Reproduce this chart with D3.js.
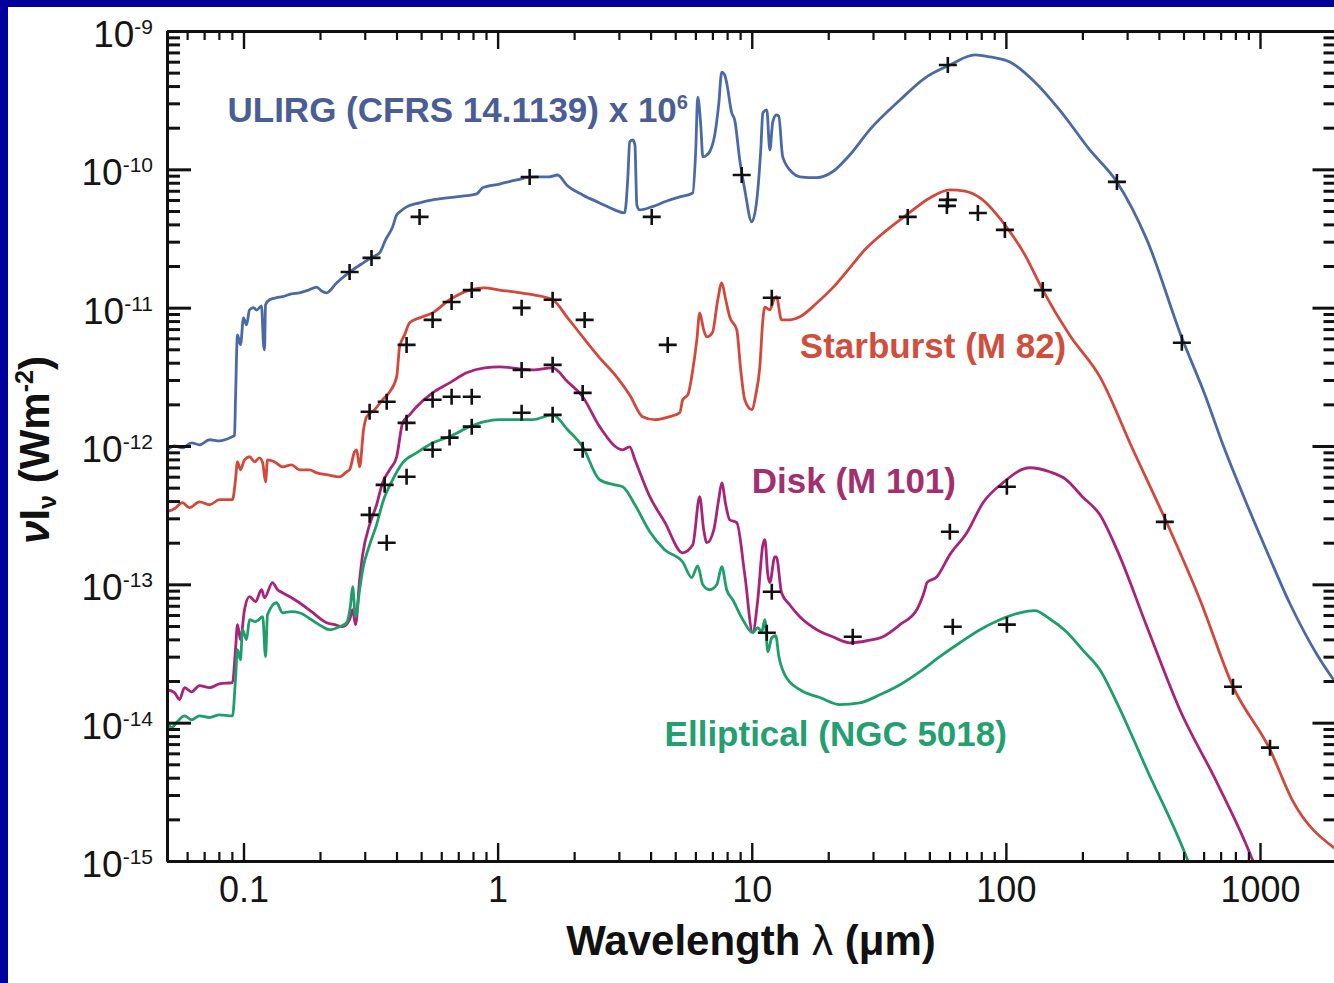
<!DOCTYPE html>
<html>
<head>
<meta charset="utf-8">
<script src="https://cdn.jsdelivr.net/npm/d3@7"></script>
<style>
  html, body { margin: 0; padding: 0; background: #00009c; }
  svg { display: block; }
</style>
</head>
<body>
<div id="container"></div>
<script>
// spectra: [wavelength (micron), nu I_nu (W m^-2)]
const ulirgSpectrum = [
  [0.05, 9.4e-13], [0.0535, 1.0e-12], [0.0575, 9.7e-13], [0.0624, 1.055e-12], [0.0671, 1.02e-12],
  [0.0735, 1.11e-12], [0.0804, 1.09e-12], [0.0905, 1.17e-12], [0.0922, 1.19e-12], [0.093, 2.16e-12],
  [0.0947, 6.36e-12], [0.0973, 5.39e-12], [0.1, 8.43e-12], [0.1028, 7.5e-12], [0.1056, 9.64e-12],
  [0.1095, 1.0e-11], [0.1125, 9.6e-12], [0.1177, 1.03e-11], [0.1199, 5.39e-12], [0.121, 4.96e-12],
  [0.1221, 1.05e-11], [0.1266, 1.14e-11], [0.1349, 1.18e-11], [0.1424, 1.2e-11], [0.1545, 1.26e-11],
  [0.166, 1.28e-11], [0.1803, 1.34e-11], [0.194, 1.41e-11], [0.2028, 1.32e-11], [0.2123, 1.28e-11],
  [0.2323, 1.51e-11], [0.2615, 1.81e-11], [0.2915, 2.07e-11], [0.322, 2.33e-11], [0.343, 2.49e-11],
  [0.3622, 3.09e-11], [0.3861, 3.83e-11], [0.4006, 4.68e-11], [0.4114, 4.92e-11], [0.4383, 5.35e-11],
  [0.493, 5.72e-11], [0.5547, 6.01e-11], [0.6471, 6.24e-11], [0.755, 6.45e-11], [0.827, 6.64e-11],
  [0.873, 7.36e-11], [1.018, 7.83e-11], [1.188, 8.39e-11], [1.373, 8.83e-11], [1.602, 8.83e-11],
  [1.722, 9.1e-11], [1.869, 7.71e-11], [2.161, 6.53e-11], [2.52, 5.72e-11], [2.888, 5.09e-11],
  [3.162, 4.84e-11], [3.25, 8.39e-11], [3.31, 1.58e-10], [3.40, 1.63e-10], [3.47, 1.5e-10],
  [3.53, 5.53e-11], [3.62, 5.09e-11], [4.04, 5.35e-11], [4.63, 5.9e-11], [5.21, 6.32e-11],
  [5.86, 6.75e-11], [6.02, 1.38e-10], [6.13, 3.33e-10], [6.30, 2.09e-10], [6.42, 1.23e-10],
  [6.66, 1.27e-10], [6.83, 1.34e-10], [7.15, 1.77e-10], [7.41, 2.92e-10], [7.62, 5.05e-10],
  [7.83, 4.8e-10], [7.97, 4.21e-10], [8.34, 2.56e-10], [8.57, 2.27e-10], [8.97, 1.17e-10],
  [9.39, 7.1e-11], [10.0, 4.17e-11], [10.47, 6.01e-11], [10.85, 1.38e-10], [11.06, 2.56e-10],
  [11.46, 2.69e-10], [11.78, 1.38e-10], [12.1, 2.2e-10], [12.5, 2.47e-10], [12.77, 2.43e-10],
  [13.24, 1.23e-10], [14.5, 9.42e-11], [15.46, 8.83e-11], [18.03, 8.7e-11], [20.8, 9.6e-11],
  [24.3, 1.27e-10], [29.1, 1.93e-10], [38.3, 3.17e-10], [48.0, 4.57e-10], [60.2, 5.68e-10],
  [75.6, 6.71e-10], [86.6, 6.49e-10], [103.7, 5.97e-10], [129.9, 4.28e-10], [162.6, 2.69e-10],
  [214, 1.38e-10], [273.5, 8.11e-11], [359, 3.09e-11], [492.6, 6.05e-12], [607.6, 2.34e-12],
  [715, 1.02e-12], [873, 4.09e-13], [1066, 1.72e-13], [1312, 7.24e-14], [1677, 3.10e-14],
  [1998, 1.91e-14]
];

const m82Spectrum = [
  [0.05, 3.35e-13], [0.0535, 3.52e-13], [0.0575, 3.89e-13], [0.0613, 3.58e-13], [0.0671, 3.95e-13],
  [0.0735, 3.76e-13], [0.0804, 4.09e-13], [0.0905, 4.09e-13], [0.093, 5.70e-13], [0.0947, 7.69e-13],
  [0.0973, 6.73e-13], [0.1009, 7.95e-13], [0.1056, 8.36e-13], [0.1105, 7.69e-13], [0.1156, 8.22e-13],
  [0.119, 7.56e-13], [0.1221, 5.51e-13], [0.1243, 7.95e-13], [0.1324, 7.69e-13], [0.1424, 7.07e-13],
  [0.1545, 7.31e-13], [0.166, 6.73e-13], [0.1819, 6.73e-13], [0.194, 6.40e-13], [0.2142, 6.19e-13],
  [0.2388, 5.99e-13], [0.2546, 6.51e-13], [0.2615, 6.73e-13], [0.2735, 9.08e-13], [0.2787, 9.39e-13],
  [0.2864, 7.07e-13], [0.2968, 1.31e-12], [0.3053, 1.63e-12], [0.328, 1.83e-12], [0.3527, 2.16e-12],
  [0.3757, 2.46e-12], [0.4006, 3.16e-12], [0.4114, 5.21e-12], [0.4305, 6.36e-12], [0.4505, 7.77e-12],
  [0.493, 8.44e-12], [0.5547, 9.17e-12], [0.6471, 1.14e-11], [0.7766, 1.34e-11], [0.889, 1.39e-11],
  [1.018, 1.34e-11], [1.167, 1.30e-11], [1.373, 1.24e-11], [1.646, 1.14e-11], [1.886, 8.44e-12],
  [2.161, 6.15e-12], [2.52, 4.34e-12], [2.94, 3.16e-12], [3.31, 2.34e-12], [3.72, 1.63e-12],
  [4.15, 1.55e-12], [4.76, 1.63e-12], [5.21, 1.74e-12], [5.35, 2.16e-12], [5.6, 2.34e-12],
  [5.86, 3.55e-12], [6.08, 5.85e-12], [6.24, 9.17e-12], [6.47, 6.91e-12], [6.66, 6.15e-12],
  [7.0, 6.58e-12], [7.35, 1.14e-11], [7.62, 1.51e-11], [7.90, 1.14e-11], [8.19, 8.58e-12],
  [8.73, 6.91e-12], [9.05, 3.55e-12], [9.39, 2.16e-12], [10.0, 1.83e-12], [10.37, 2.34e-12],
  [10.76, 3.73e-12], [11.06, 8.16e-12], [11.26, 1.01e-11], [11.78, 9.64e-12], [12.21, 1.14e-11],
  [12.5, 1.20e-11], [13.1, 8.16e-12], [14.1, 8.16e-12], [15.46, 8.58e-12], [18.03, 1.08e-11],
  [20.8, 1.39e-11], [24.3, 1.94e-11], [27.86, 2.62e-11], [31.9, 3.30e-11], [41.1, 4.76e-11],
  [50.2, 6.21e-11], [60.2, 7.10e-11], [69.0, 6.95e-11], [79.1, 6.21e-11], [99.1, 3.97e-11],
  [118.8, 2.41e-11], [139.7, 1.34e-11], [177.8, 6.36e-12], [234.5, 3.16e-12], [316.4, 9.39e-13],
  [429.6, 2.79e-13], [580.5, 7.74e-14], [783, 1.82e-14], [1095, 6.38e-15], [1337, 2.78e-15],
  [1998, 1.21e-15]
];

const m101Spectrum = [
  [0.05, 1.73e-14], [0.0535, 1.65e-14], [0.056, 1.47e-14], [0.0586, 1.79e-14], [0.0624, 1.67e-14],
  [0.0671, 1.85e-14], [0.0735, 1.79e-14], [0.0804, 1.91e-14], [0.0905, 1.95e-14], [0.093, 3.37e-14],
  [0.0947, 5.11e-14], [0.0973, 3.98e-14], [0.1009, 6.55e-14], [0.1056, 8.14e-14], [0.1115, 7.49e-14],
  [0.1177, 9.14e-14], [0.121, 8.0e-14], [0.130, 1.03e-13], [0.1361, 9.14e-14], [0.1424, 8.70e-14],
  [0.1545, 8.0e-14], [0.166, 7.36e-14], [0.1852, 6.34e-14], [0.2123, 5.28e-14], [0.2282, 5.11e-14],
  [0.2455, 4.94e-14], [0.2615, 5.55e-14], [0.2688, 6.55e-14], [0.276, 5.11e-14], [0.2864, 1.08e-13],
  [0.2944, 1.64e-13], [0.3135, 2.70e-13], [0.334, 3.76e-13], [0.3527, 5.42e-13], [0.3757, 6.73e-13],
  [0.4006, 8.36e-13], [0.4228, 1.47e-12], [0.4505, 1.68e-12], [0.480, 1.92e-12], [0.5547, 2.42e-12],
  [0.6471, 2.86e-12], [0.755, 3.38e-12], [0.889, 3.67e-12], [1.018, 3.73e-12], [1.373, 3.55e-12],
  [1.646, 3.67e-12], [1.886, 2.91e-12], [2.161, 2.27e-12], [2.52, 1.38e-12], [3.105, 9.39e-13],
  [3.31, 9.87e-13], [3.47, 7.95e-13], [3.97, 4.30e-13], [4.54, 2.83e-13], [5.35, 1.69e-13],
  [5.86, 1.93e-13], [6.24, 4.30e-13], [6.47, 2.48e-13], [6.66, 2.0e-13], [7.09, 2.48e-13],
  [7.41, 4.09e-13], [7.62, 5.42e-13], [7.90, 3.76e-13], [8.19, 2.93e-13], [8.73, 2.79e-13],
  [9.39, 1.17e-13], [10.09, 4.47e-14], [10.56, 7.74e-14], [11.06, 1.93e-13], [11.26, 2.10e-13],
  [11.57, 1.17e-13], [11.78, 1.03e-13], [12.32, 1.58e-13], [12.5, 1.58e-13], [13.1, 8.70e-14],
  [14.1, 7.12e-14], [15.46, 5.83e-14], [18.03, 4.70e-14], [20.8, 4.18e-14], [24.3, 3.78e-14],
  [28.37, 3.91e-14], [32.8, 4.18e-14], [38.3, 5.11e-14], [44.6, 6.55e-14], [48.0, 9.14e-14],
  [48.9, 1.03e-13], [53.4, 1.13e-13], [60.2, 1.64e-13], [70.2, 2.36e-13], [81.3, 3.89e-13],
  [97.3, 5.42e-13], [124.2, 6.96e-13], [148.6, 6.51e-13], [173.1, 5.70e-13], [200, 4.30e-13],
  [234.5, 3.18e-13], [273.5, 1.78e-13], [359, 4.94e-14], [483.7, 1.24e-14], [677, 3.69e-15],
  [938, 1.0e-15], [1000, 7.3e-16]
];

const ngc5018Spectrum = [
  [0.05, 1.05e-14], [0.0521, 9.2e-15], [0.055, 1.02e-14], [0.0586, 1.12e-14], [0.0624, 1.05e-14],
  [0.0671, 1.12e-14], [0.0735, 1.09e-14], [0.0804, 1.14e-14], [0.0905, 1.12e-14], [0.093, 2.05e-14],
  [0.0947, 3.37e-14], [0.0973, 2.85e-14], [0.0991, 4.70e-14], [0.1028, 3.98e-14], [0.1056, 5.55e-14],
  [0.1115, 5.37e-14], [0.119, 5.83e-14], [0.1221, 3.0e-14], [0.1243, 6.03e-14], [0.1349, 7.36e-14],
  [0.1424, 6.23e-14], [0.1545, 6.34e-14], [0.166, 6.23e-14], [0.1852, 5.55e-14], [0.2048, 4.94e-14],
  [0.218, 4.70e-14], [0.2388, 4.94e-14], [0.2546, 5.28e-14], [0.2638, 7.12e-14], [0.2688, 9.61e-14],
  [0.276, 5.83e-14], [0.2864, 9.14e-14], [0.2944, 1.27e-13], [0.3135, 1.93e-13], [0.334, 2.70e-13],
  [0.3527, 3.89e-13], [0.3861, 5.70e-13], [0.4228, 7.56e-13], [0.480, 8.93e-13], [0.5547, 1.05e-12],
  [0.6471, 1.17e-12], [0.7766, 1.38e-12], [0.889, 1.50e-12], [1.018, 1.55e-12], [1.373, 1.55e-12],
  [1.646, 1.68e-12], [1.886, 1.31e-12], [2.161, 9.87e-13], [2.52, 5.70e-13], [2.888, 5.24e-13],
  [3.105, 5.07e-13], [3.47, 3.76e-13], [3.97, 2.40e-13], [4.54, 1.78e-13], [5.35, 1.45e-13],
  [5.80, 1.12e-13], [6.13, 1.36e-13], [6.42, 9.93e-14], [6.83, 9.14e-14], [7.28, 9.93e-14],
  [7.62, 1.34e-13], [7.97, 9.14e-14], [8.42, 7.74e-14], [9.22, 5.55e-14], [10.09, 4.47e-14],
  [10.56, 4.86e-14], [10.95, 4.54e-14], [11.26, 5.55e-14], [11.57, 3.26e-14], [11.99, 4.11e-14],
  [12.43, 4.25e-14], [12.77, 3.05e-14], [13.49, 2.22e-14], [15.46, 1.73e-14], [18.52, 1.52e-14],
  [22.2, 1.35e-14], [26.6, 1.39e-14], [31.9, 1.59e-14], [38.3, 1.88e-14], [45.9, 2.34e-14],
  [54.97, 3.0e-14], [65.9, 3.78e-14], [79.1, 4.70e-14], [94.7, 5.55e-14], [113.5, 6.23e-14],
  [129.9, 6.45e-14], [148.6, 5.64e-14], [173.1, 4.54e-14], [200, 3.37e-14], [234.5, 2.41e-14],
  [273.5, 1.39e-14], [359, 4.57e-15], [520.6, 1.0e-15], [554.7, 7.3e-16]
];

// photometry points (the black crosses)
const ulirgPhot = [[0.2615, 1.81e-11], [0.319, 2.29e-11], [0.493, 4.53e-11], [1.337, 8.81e-11],
  [4.04, 4.53e-11], [9.13, 9.11e-11], [59.1, 5.68e-10], [273.5, 8.11e-11], [492.6, 5.57e-12]];
const m82Phot = [[0.3135, 1.77e-12], [0.366, 2.09e-12], [0.4383, 5.38e-12], [0.5547, 8.16e-12],
  [0.659, 1.10e-11], [0.791, 1.34e-11], [1.243, 9.97e-12], [1.646, 1.14e-11], [2.2, 8.16e-12],
  [4.67, 5.38e-12], [11.99, 1.18e-11], [41.1, 4.53e-11], [59.1, 6.01e-11], [58.6, 5.44e-11],
  [77.6, 4.84e-11], [99.1, 3.65e-11], [139.7, 1.34e-11], [422, 2.83e-13], [783, 1.82e-14], [1095, 6.60e-15]];
const m101Phot = [[0.3135, 3.18e-13], [0.3593, 5.24e-13], [0.4383, 1.47e-12], [0.5547, 2.16e-12],
  [0.659, 2.27e-12], [0.791, 2.27e-12], [1.243, 3.55e-12], [1.646, 3.86e-12], [2.161, 2.42e-12],
  [11.99, 8.84e-14], [24.97, 4.18e-14], [60.2, 2.40e-13], [100.9, 5.07e-13]];
const ngc5018Phot = [[0.366, 2.0e-13], [0.4383, 5.99e-13], [0.5547, 9.39e-13], [0.6471, 1.15e-12],
  [0.791, 1.38e-12], [1.243, 1.74e-12], [1.646, 1.68e-12], [2.161, 9.39e-13], [11.46, 4.47e-14],
  [61.8, 4.94e-14], [100.9, 5.11e-14]];

// tick labels
const lambdaMajor = [0.1, 1, 10, 100, 1000];
const xTickLabels = ["0.1", "1", "10", "100", "1000"];
const fluxExponents = [-15, -14, -13, -12, -11, -10, -9];

let w = 1334;
let h = 983;
let padLeft = 167, padRight = 1336.5, padTop = 31, padBottom = 861;
let FONT = '"Liberation Sans", Arial, Helvetica, sans-serif';

let series = [
  { name: "ULIRG (CFRS 14.1139) x 10", sup: "6", spec: ulirgSpectrum, phot: ulirgPhot,
    line: "#4b69a4", text: "#4a5e95", at: [0.0865, 2.2e-10] },
  { name: "Starburst (M 82)", spec: m82Spectrum, phot: m82Phot,
    line: "#d3483b", text: "#cf4f3e", at: [15.46, 4.34e-12] },
  { name: "Disk (M 101)", spec: m101Spectrum, phot: m101Phot,
    line: "#a8237a", text: "#a2306f", at: [10.0, 4.59e-13] },
  { name: "Elliptical (NGC 5018)", spec: ngc5018Spectrum, phot: ngc5018Phot,
    line: "#1e9f6a", text: "#22a070", at: [4.54, 6.82e-15] }
];

let viz = d3.select('#container')
  .append('svg')
  .attr('width', w)
  .attr('height', h);

viz.append('rect').attr('width', w).attr('height', h).attr('fill', '#00009c');
viz.append('rect').attr('x', 8).attr('y', 7).attr('width', w - 8).attr('height', h - 7).attr('fill', 'white');

let x = d3.scaleLog().domain([0.05, 2000]).range([padLeft, padRight]);
let y = d3.scaleLog().domain([1e-15, 1e-9]).range([padBottom, padTop]);

viz.append('clipPath').attr('id', 'plotclip')
  .append('rect').attr('x', padLeft).attr('y', padTop)
  .attr('width', padRight - padLeft).attr('height', padBottom - padTop);

// CURVES
let line = d3.line().x(d => x(d[0])).y(d => y(d[1])).curve(d3.curveMonotoneX);
let curves = viz.append('g').attr('clip-path', 'url(#plotclip)');
series.forEach(s => {
  curves.append('path')
    .attr('d', line(s.spec))
    .attr('fill', 'none')
    .attr('stroke', s.line)
    .attr('stroke-width', 2.8)
    .attr('stroke-linejoin', 'round');
});

// CROSSES
series.forEach(s => {
  viz.append('g').selectAll('path').data(s.phot).enter()
    .append('path')
    .attr('d', d => `M${x(d[0]) - 9},${y(d[1])}h18M${x(d[0])},${y(d[1]) - 8}v16`)
    .attr('stroke', '#111')
    .attr('stroke-width', 2.6);
});

// AXES
let isMajor = (v, majors) => majors.some(m => Math.abs(v / m - 1) < 1e-6);
let xMinor = x.ticks().filter(v => !isMajor(v, lambdaMajor));
let yMajor = fluxExponents.map(e => Math.pow(10, e));
let yMinor = y.ticks().filter(v => !isMajor(v, yMajor));

function axisGroup(axis, tx, ty, sw) {
  let g = viz.append('g').attr('transform', `translate(${tx},${ty})`).call(axis);
  g.selectAll('.tick line').attr('stroke', '#111').attr('stroke-width', sw);
  g.select('.domain').attr('stroke', '#111').attr('stroke-width', 3);
  return g;
}

axisGroup(d3.axisBottom(x).tickValues(xMinor).tickSize(-9).tickSizeOuter(0).tickFormat(''), 0, padBottom, 2.2);
axisGroup(d3.axisTop(x).tickValues(xMinor).tickSize(-9).tickSizeOuter(0).tickFormat(''), 0, padTop, 2.2);
axisGroup(d3.axisTop(x).tickValues(lambdaMajor).tickSize(-18).tickSizeOuter(0).tickFormat(''), 0, padTop, 2.4);
let xAxisGroup = axisGroup(d3.axisBottom(x).tickValues(lambdaMajor).tickSize(-18).tickSizeOuter(0)
  .tickPadding(15).tickFormat((d, i) => xTickLabels[i]), 0, padBottom, 2.4);
xAxisGroup.selectAll('text')
  .attr('font-family', FONT).attr('font-size', 36).attr('fill', '#151515');

axisGroup(d3.axisLeft(y).tickValues(yMinor).tickSize(-13).tickSizeOuter(0).tickFormat(''), padLeft, 0, 3);
axisGroup(d3.axisLeft(y).tickValues(yMajor).tickSize(-24).tickSizeOuter(0).tickFormat(''), padLeft, 0, 3);
axisGroup(d3.axisRight(y).tickValues(yMinor).tickSize(-13).tickSizeOuter(0).tickFormat(''), padRight, 0, 3);
axisGroup(d3.axisRight(y).tickValues(yMajor).tickSize(-24).tickSizeOuter(0).tickFormat(''), padRight, 0, 3);

// y tick labels: 10 with superscript exponent
let yLabels = viz.append('g').selectAll('text').data(fluxExponents).enter()
  .append('text')
  .attr('x', 153)
  .attr('y', d => y(Math.pow(10, d)) + 16)
  .attr('text-anchor', 'end')
  .attr('font-family', FONT)
  .attr('fill', '#151515');
yLabels.append('tspan').attr('font-size', 37).text('10');
yLabels.append('tspan').attr('font-size', 21).attr('dy', -13).text(d => String(d));

// SERIES LABELS
series.forEach(s => {
  let t = viz.append('text')
    .attr('x', x(s.at[0]))
    .attr('y', y(s.at[1]))
    .attr('font-family', FONT)
    .attr('font-size', 35)
    .attr('font-weight', 'bold')
    .attr('fill', s.text)
    .text(s.name);
  if (s.sup) {
    t.append('tspan').attr('font-size', 20).attr('dy', -13).text(s.sup);
  }
});

// AXIS TITLES
let xTitle = viz.append('text')
  .attr('x', 751).attr('y', 955)
  .attr('text-anchor', 'middle')
  .attr('font-family', FONT).attr('font-size', 42).attr('font-weight', 'bold')
  .attr('fill', '#111');
xTitle.append('tspan').text('Wavelength ');
xTitle.append('tspan').attr('font-weight', 'normal').text('λ');
xTitle.append('tspan').text(' (μm)');

let yTitle = viz.append('text')
  .attr('transform', 'translate(49,450) rotate(-90)')
  .attr('text-anchor', 'middle')
  .attr('font-family', FONT).attr('font-size', 42).attr('font-weight', 'bold')
  .attr('fill', '#111');
yTitle.append('tspan').attr('font-style', 'italic').text('ν');
yTitle.append('tspan').text('I');
yTitle.append('tspan').attr('font-size', 25).attr('dy', 7).text('ν');
yTitle.append('tspan').attr('dy', -7).text(' (Wm');
yTitle.append('tspan').attr('font-size', 25).attr('dy', -16).text('-2');
yTitle.append('tspan').attr('dy', 16).text(')');
</script>
</body>
</html>
